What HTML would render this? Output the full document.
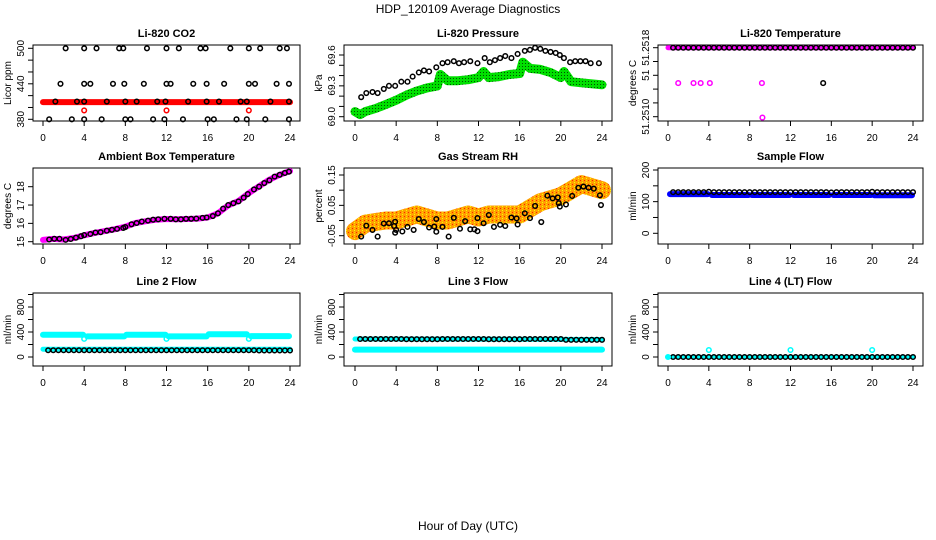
<!DOCTYPE html>
<html><head><meta charset="utf-8"><style>
body{margin:0;background:#fff}
svg{display:block}
text{font-family:"Liberation Sans",sans-serif;fill:#000}
</style></head><body>
<svg id="c" width="936" height="540" viewBox="0 0 936 540" xmlns="http://www.w3.org/2000/svg">
<defs>
<pattern id="grn" width="3" height="3" patternUnits="userSpaceOnUse"><rect width="3" height="3" fill="#00e000"/><rect width="1" height="1" fill="#005000"/></pattern>
<pattern id="org" width="4" height="4" patternUnits="userSpaceOnUse"><rect width="4" height="4" fill="#ffa000"/><rect width="1" height="1" fill="#ff2000"/><rect x="2" y="2" width="1" height="1" fill="#ffff00"/><rect x="2" y="0" width="1" height="1" fill="#ffd000"/></pattern>
</defs>
<text x="468" y="13" font-size="12" text-anchor="middle">HDP_120109  Average Diagnostics</text>
<text x="468" y="530" font-size="12" text-anchor="middle">Hour of Day (UTC)</text>
</svg>
<script>
const xTicks=[0,4,8,12,16,20,24];
const hrs=[0.5,1,1.5,2,2.5,3,3.5,4,4.5,5,5.5,6,6.5,7,7.5,8,8.5,9,9.5,10,10.5,11,11.5,12,12.5,13,13.5,14,14.5,15,15.5,16,16.5,17,17.5,18,18.5,19,19.5,20,20.5,21,21.5,22,22.5,23,23.5,24];
// CO2
const co2RedX=[0,24];
const co2RedY=[409,409];
const co2RedPtX=[4,12,20];
const co2RedPtY=[395,395,395];
const co2BlkX=[2.2,4,5.2,7.4,7.8,10.1,12,13.2,15.3,15.8,18.2,20,21.1,23,23.7,1.7,4,4.6,6.8,7.9,9.8,12,12.4,14.6,15.9,17.6,20,20.6,22.7,23.9,1.2,3.3,4,6.2,8,9.1,11.1,11.9,14.1,15.9,17.1,19.2,19.8,22.1,23.9,0.6,2.8,4,5.7,8,8.5,10.7,11.8,13.6,16,16.6,18.8,19.8,21.6,23.9];
const co2BlkY=[500,500,500,500,500,500,500,500,500,500,500,500,500,500,500,440,440,440,440,440,440,440,440,440,440,440,440,440,440,440,410,410,410,410,410,410,410,410,410,410,410,410,410,410,410,380,380,380,380,380,380,380,380,380,380,380,380,380,380,380];
// Pressure
const presGrnX=[0,0.5,1,2,3,4,5,6,7,8,8.3,9,10,11,12,12.5,13,14,15,16,16.3,17,18,19,20,20.3,21,22,23,24];
const presGrnY=[69.05,69.02,69.05,69.08,69.12,69.16,69.21,69.25,69.28,69.3,69.41,69.35,69.35,69.36,69.38,69.44,69.38,69.39,69.41,69.42,69.53,69.47,69.46,69.43,69.38,69.44,69.34,69.33,69.32,69.31];
const presBlkX=[0.6,1.1,1.7,2.2,2.8,3.3,3.9,4.5,5.1,5.6,6.2,6.7,7.2,7.9,8.5,9.0,9.6,10.1,10.6,11.2,11.9,12.6,13.1,13.6,14.1,14.6,15.2,15.8,16.5,17.0,17.5,18.0,18.5,19.0,19.5,19.9,20.3,20.9,21.4,21.9,22.4,22.9,23.7];
const presBlkY=[69.19,69.23,69.24,69.23,69.27,69.3,69.3,69.34,69.34,69.39,69.43,69.45,69.44,69.48,69.52,69.53,69.54,69.52,69.53,69.54,69.52,69.57,69.53,69.55,69.57,69.59,69.57,69.61,69.64,69.65,69.67,69.66,69.64,69.63,69.62,69.6,69.57,69.53,69.54,69.54,69.54,69.52,69.52];
// Li-820 temperature
const tmpBandX=[0,24];
const tmpBandY=[51.2518,51.2518];
const tmpTop=[51.2518,51.2518,51.2518,51.2518,51.2518,51.2518,51.2518,51.2518,51.2518,51.2518,51.2518,51.2518,51.2518,51.2518,51.2518,51.2518,51.2518,51.2518,51.2518,51.2518,51.2518,51.2518,51.2518,51.2518,51.2518,51.2518,51.2518,51.2518,51.2518,51.2518,51.2518,51.2518,51.2518,51.2518,51.2518,51.2518,51.2518,51.2518,51.2518,51.2518,51.2518,51.2518,51.2518,51.2518,51.2518,51.2518,51.2518,51.2518];
const tmpMagX=[1,2.5,3.2,4.1,9.2,9.25];
const tmpMagY=[51.25139,51.25139,51.25139,51.25139,51.25139,51.25099];
const tmpBlkX=[15.2];
const tmpBlkY=[51.25139];
// Ambient box
const ambBandX=[0,1,2,3,4,5,6,7,8,9,10,11,12,13,14,15,16,17,18,19,20,21,22,23,24];
const ambBandY=[15.1,15.15,15.12,15.2,15.35,15.48,15.58,15.68,15.82,16.02,16.12,16.2,16.24,16.22,16.24,16.26,16.32,16.55,16.98,17.22,17.65,18.02,18.38,18.65,18.85];
const ambBlkX=[0.6,1.1,1.6,2.2,2.7,3.2,3.7,4.0,4.6,5.1,5.6,6.2,6.7,7.2,7.8,8.0,8.6,9.1,9.6,10.2,10.7,11.2,11.8,12.4,12.9,13.4,13.9,14.4,14.9,15.5,15.9,16.5,17.0,17.5,18.0,18.5,19.0,19.5,19.9,20.5,21.0,21.5,22.0,22.5,23.0,23.5,23.9];
const ambBlkY=[15.12,15.16,15.16,15.1,15.15,15.22,15.3,15.36,15.42,15.5,15.52,15.6,15.65,15.7,15.75,15.8,15.95,16.02,16.1,16.15,16.2,16.22,16.25,16.25,16.22,16.22,16.25,16.25,16.26,16.3,16.32,16.4,16.55,16.8,17.0,17.1,17.2,17.4,17.6,17.85,18.0,18.2,18.35,18.55,18.65,18.75,18.82];
// RH
const rhBandX=[0,1,2,3,4,5,6,7,8,9,10,11,12,13,14,15,16,17,18,19,20,21,22,23,24];
const rhBandY=[-0.035,-0.01,-0.005,0,0.0,0.01,0.02,0.01,0.0,0.0,0.01,0.02,0.01,0.02,0.02,0.02,0.02,0.04,0.06,0.07,0.08,0.1,0.12,0.11,0.1];
const rhBlkX=[0.6,1.1,1.7,2.2,2.8,3.3,3.8,3.9,3.9,4.0,4.6,5.1,5.7,6.2,6.7,7.2,7.7,7.9,7.9,8.5,9.1,9.6,10.2,10.7,11.2,11.6,11.9,11.9,12.5,13.0,13.5,14.1,14.6,15.2,15.7,15.8,16.5,17.0,17.5,18.1,18.7,19.2,19.7,19.8,19.9,20.5,21.1,21.7,22.2,22.7,23.2,23.8,23.9];
const rhBlkY=[-0.053,-0.017,-0.031,-0.053,-0.010,-0.009,-0.018,-0.004,-0.040,-0.031,-0.036,-0.021,-0.031,0.005,-0.005,-0.023,-0.020,0.005,-0.037,-0.021,-0.053,0.009,-0.027,-0.002,-0.029,-0.029,0.008,-0.035,-0.009,0.018,-0.021,-0.014,-0.018,0.010,0.007,-0.013,0.024,0.008,0.048,-0.005,0.082,0.073,0.076,0.057,0.046,0.053,0.081,0.108,0.112,0.108,0.105,0.083,0.051];
// Sample flow
const sfBandX=[0.2,3.9,null,4.3,7.9,null,8.2,11.9,null,12.3,15.8,null,16.2,19.9,null,20.2,23.9];
const sfBandY=[124,124,null,121,121,null,121,121,null,121,121,null,121,121,null,120,120];
const sfBlk=[130,130,130,130,130,130,130,131,130,130,130,130,130,130,130,130,130,130,130,130,130,130,130,130,130,130,130,130,130,130,130,129,130,130,130,130,130,130,130,131,130,130,130,130,130,130,130,130];
// Line 2
const l2UpX=[0,3.9,null,4.3,7.9,null,8.1,11.9,null,12.2,15.9,null,16.1,19.8,null,20.2,23.9];
const l2UpY=[357,357,null,330,330,null,357,357,null,330,330,null,365,365,null,335,335];
const l2LoX=[0,24];
const l2LoY=[125,125];
const l2DipX=[4,12,20];
const l2DipY=[290,290,290];
const l2Blk=[108,108,108,108,108,108,108,108,108,108,108,108,108,108,108,108,108,108,108,108,108,108,108,108,108,108,108,108,108,108,108,108,108,108,108,108,108,108,108,108,108,105,105,105,105,105,105,105];
// Line 3
const l3LoX=[0,24];
const l3LoY=[118,118];
const l3UpX=[0,24];
const l3UpY=[288,280];
const l3Blk=[288,288,288,288,288,288,288,288,288,285,285,285,285,285,285,285,288,288,288,288,288,288,288,288,288,285,285,285,285,285,285,285,288,288,288,288,288,288,288,288,275,275,275,275,275,275,275,275];
// Line 4
const l4BandX=[0,24];
const l4BandY=[0,0];
const l4CyX=[0,4,12,20];
const l4CyY=[0,112,112,112];
const l4Blk=[0,0,0,0,0,0,0,0,0,0,0,0,0,0,0,0,0,0,0,0,0,0,0,0,0,0,0,0,0,0,0,0,0,0,0,0,0,0,0,0,0,0,0,0,0,0,0,0];

const svg=document.getElementById('c');
const NS='http://www.w3.org/2000/svg';
function mk(tag,attrs,parent){const e=document.createElementNS(NS,tag);for(const k in attrs)e.setAttribute(k,attrs[k]);(parent||svg).appendChild(e);return e;}

function panel(p){
  const g=mk('g',{});
  
  
  const sx=h=>p.x0+h*(p.x24-p.x0)/24;
  const sy=v=>p.ya+(v-p.va)*(p.yb-p.ya)/(p.vb-p.va);
  p.sx=sx;p.sy=sy;p.g=g;
  const [L,T,R,B]=p.box;
  const t=mk('text',{x:(L+R)/2,y:T-8,'font-size':11,'font-weight':'bold','text-anchor':'middle'},g);
  t.textContent=p.title;
  
  
  const yt=mk('text',{transform:`translate(${L-22},${(T+B)/2}) rotate(-90)`,'font-size':10,'text-anchor':'middle'},g);
  yt.textContent=p.ylab;
  
  
  mk('line',{x1:sx(0),x2:sx(24),y1:B,y2:B,stroke:'#000'},g);
  xTicks.forEach(h=>{
    mk('line',{x1:sx(h),x2:sx(h),y1:B,y2:B+5,stroke:'#000'},g);
    const tx=mk('text',{x:sx(h),y:B+20,'font-size':10,'text-anchor':'middle'},g);
    tx.textContent=h;
    
    
  });
  const ys=p.yt.map(sy);
  mk('line',{x1:L,x2:L,y1:Math.min(...ys),y2:Math.max(...ys),stroke:'#000'},g);
  p.yt.forEach((v,i)=>{
    mk('line',{x1:L-5,x2:L,y1:sy(v),y2:sy(v),stroke:'#000'},g);
    if(p.yl[i]!==''){
      const ty=mk('text',{transform:`translate(${L-9},${sy(v)}) rotate(-90)`,'font-size':10,'text-anchor':'middle'},g);
      ty.textContent=p.yl[i];
      
      
    }
  });
  const bx=mk('rect',{x:L,y:T,width:R-L,height:B-T,fill:'none',stroke:'#000','stroke-width':1},g);
  
  
  return p;
}
function band(p,xs,ys,color,w,name,op){
  let d='';let pen=false;
  xs.forEach((x,i)=>{if(x===null){pen=false;return;}d+=(pen?'L':'M')+p.sx(x).toFixed(1)+' '+p.sy(ys[i]).toFixed(1);pen=true;});
  const e=mk('path',{d:d,fill:'none',stroke:color,'stroke-width':w,'stroke-linecap':'round','stroke-linejoin':'round',opacity:op||1},p.g);
  
  
}
function pts(p,xs,ys,color,name){
  xs.forEach((x,i)=>{
    const c=mk('circle',{cx:p.sx(x),cy:p.sy(ys[i]),r:2.3,fill:'none',stroke:color,'stroke-width':1.5},p.g);
    
    
  });
}

const r1=[45,121],r2=[168,244],r3=[293,366];
const c1={x0:43,x24:290,L:33,R:300},c2={x0:355,x24:602,L:344,R:612},c3={x0:668,x24:913,L:658,R:923};

let p=panel({name:'co2-panel',title:'Li-820 CO2',ylab:'Licor ppm',x0:c1.x0,x24:c1.x24,box:[c1.L,r1[0],c1.R,r1[1]],va:380,ya:119.3,vb:500,yb:48.3,yt:[380,400,420,440,460,480,500],yl:['380','','','440','','','500']});
band(p,co2RedX,co2RedY,'#ff0000',6,'co2-band');
pts(p,co2RedPtX,co2RedPtY,'#ff0000','co2-red-point');
pts(p,co2BlkX,co2BlkY,'#000','co2-point');

p=panel({name:'pressure-panel',title:'Li-820 Pressure',ylab:'kPa',x0:c2.x0,x24:c2.x24,box:[c2.L,r1[0],c2.R,r1[1]],va:69.0,ya:116.7,vb:69.6,yb:55,yt:[69.0,69.1,69.2,69.3,69.4,69.5,69.6],yl:['69.0','','','69.3','','','69.6']});
band(p,presGrnX,presGrnY,'url(#grn)',9,'pressure-band');
pts(p,presBlkX,presBlkY,'#000','pressure-point');

p=panel({name:'li820-temp-panel',title:'Li-820 Temperature',ylab:'degrees C',x0:c3.x0,x24:c3.x24,box:[c3.L,r1[0],c3.R,r1[1]],va:51.2510,ya:116.7,vb:51.2518,yb:47.7,yt:[51.2518,51.25164,51.25148,51.25132,51.25116,51.2510],yl:['51.2518','','51','','','51.2510']});
band(p,tmpBandX,tmpBandY,'#ff00ff',5,'temp-band');
pts(p,hrs,tmpTop,'#000','temp-point');
pts(p,tmpMagX,tmpMagY,'#ff00ff','temp-magenta-point');
pts(p,tmpBlkX,tmpBlkY,'#000','temp-black-point');

p=panel({name:'ambient-panel',title:'Ambient Box Temperature',ylab:'degrees C',x0:c1.x0,x24:c1.x24,box:[c1.L,r2[0],c1.R,r2[1]],va:15,ya:241.7,vb:18,yb:186.7,yt:[15,16,17,18],yl:['15','16','17','18']});
band(p,ambBandX,ambBandY,'#ff00ff',6,'ambient-band');
pts(p,ambBlkX,ambBlkY,'#000','ambient-point');

p=panel({name:'rh-panel',title:'Gas Stream RH',ylab:'percent',x0:c2.x0,x24:c2.x24,box:[c2.L,r2[0],c2.R,r2[1]],va:-0.05,ya:235.7,vb:0.15,yb:175,yt:[-0.05,0,0.05,0.1,0.15],yl:['-0.05','','0.05','','0.15']});
band(p,rhBandX,rhBandY,'url(#org)',18,'rh-band');
pts(p,rhBlkX,rhBlkY,'#000','rh-point');

p=panel({name:'sample-flow-panel',title:'Sample Flow',ylab:'ml/min',x0:c3.x0,x24:c3.x24,box:[c3.L,r2[0],c3.R,r2[1]],va:0,ya:233.3,vb:200,yb:170,yt:[0,50,100,150,200],yl:['0','','100','','200']});
band(p,sfBandX,sfBandY,'#0000ff',6,'sample-flow-band');
pts(p,hrs,sfBlk,'#000','sample-flow-point');

const yt3=[0,200,400,600,800,1000],yl3=['0','','400','','800',''];
p=panel({name:'line2-panel',title:'Line 2 Flow',ylab:'ml/min',x0:c1.x0,x24:c1.x24,box:[c1.L,r3[0],c1.R,r3[1]],va:0,ya:357,vb:800,yb:307,yt:yt3,yl:yl3});
band(p,l2UpX,l2UpY,'#00ffff',6,'line2-band-upper');
band(p,l2LoX,l2LoY,'#00ffff',5,'line2-band-lower');
pts(p,l2DipX,l2DipY,'#00ffff','line2-dip-point');
pts(p,hrs,l2Blk,'#000','line2-point');

p=panel({name:'line3-panel',title:'Line 3 Flow',ylab:'ml/min',x0:c2.x0,x24:c2.x24,box:[c2.L,r3[0],c2.R,r3[1]],va:0,ya:357,vb:800,yb:307,yt:yt3,yl:yl3});
band(p,l3LoX,l3LoY,'#00ffff',6,'line3-band-lower');
band(p,l3UpX,l3UpY,'#00ffff',5,'line3-band-upper');
pts(p,hrs,l3Blk,'#000','line3-point');

p=panel({name:'line4-panel',title:'Line 4 (LT) Flow',ylab:'ml/min',x0:c3.x0,x24:c3.x24,box:[c3.L,r3[0],c3.R,r3[1]],va:0,ya:357,vb:800,yb:307,yt:yt3,yl:yl3});
band(p,l4BandX,l4BandY,'#00ffff',4,'line4-band');
pts(p,hrs,l4Blk,'#000','line4-point');
pts(p,l4CyX,l4CyY,'#00ffff','line4-cyan-point');
</script>
</body></html>
